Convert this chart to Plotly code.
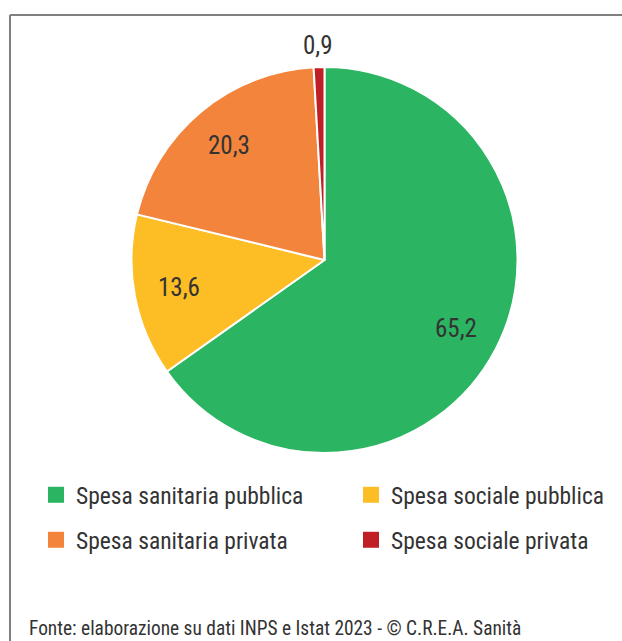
import math
import plotly.graph_objects as go

labels = ["Spesa sanitaria pubblica", "Spesa sociale pubblica",
          "Spesa sanitaria privata", "Spesa sociale privata"]
values = [65.2, 13.6, 20.3, 0.9]
colors = ["#2bb461", "#fdbd25", "#f2843c", "#c11f26"]
source = "Fonte: elaborazione su dati INPS e Istat 2023 - © C.R.E.A. Sanità"

FONT = "Roboto Condensed, Liberation Sans Narrow, Roboto, sans-serif"
W, H = 622, 641
cx, cy, r = 324.5, 260, 193

fig = go.Figure(go.Pie(
    labels=labels,
    values=values,
    marker=dict(colors=colors, line=dict(color="white", width=2)),
    sort=False,
    direction="clockwise",
    rotation=0,
    textinfo="none",
    hoverinfo="label+value",
    showlegend=False,
    domain=dict(x=[(cx - r) / W, (cx + r) / W], y=[1 - (cy + r) / H, 1 - (cy - r) / H]),
))

# legend: one small legend per entry, laid out as a 2x2 grid
leg_names = ["legend", "legend2", "legend3", "legend4"]
for lab, col, ln in zip(labels, colors, leg_names):
    fig.add_trace(go.Scatter(
        x=[None], y=[None], mode="markers", name=lab,
        marker=dict(symbol="square", size=16, color=col),
        legend=ln, hoverinfo="skip",
    ))

# value labels placed along each slice's mid-angle
annotations = []
total = sum(values)
cum = 0
for v in values:
    mid = (cum + v / 2) / total * 2 * math.pi
    cum += v
    f = 1.11 if v < 2 else 0.77
    x = cx + r * f * math.sin(mid)
    y = cy - r * f * math.cos(mid)
    annotations.append(dict(text=f"{v:.1f}".replace(".", ","), x=x / W, y=1 - y / H,
                            xref="paper", yref="paper", xanchor="center", yanchor="middle",
                            showarrow=False,
                            font=dict(family=FONT, size=25, color="#333333")))
annotations.append(dict(text=source, xref="paper", yref="paper", x=27 / W, y=1 - 628 / H,
                        xanchor="left", yanchor="middle", showarrow=False,
                        font=dict(family=FONT, size=19.4, color="#333333")))

leg = dict(
    orientation="h", xanchor="left", yanchor="middle",
    bgcolor="rgba(0,0,0,0)",
    font=dict(family=FONT, size=23.5, color="#333333"),
)
col_x = [36, 351]
row_y = [495, 540]

fig.update_layout(
    width=W, height=H,
    margin=dict(l=0, r=0, t=0, b=0),
    paper_bgcolor="white",
    plot_bgcolor="white",
    font=dict(family=FONT, color="#333333"),
    xaxis=dict(visible=False),
    yaxis=dict(visible=False),
    legend=dict(leg, x=col_x[0] / W, y=1 - row_y[0] / H),
    legend2=dict(leg, x=col_x[1] / W, y=1 - row_y[0] / H),
    legend3=dict(leg, x=col_x[0] / W, y=1 - row_y[1] / H),
    legend4=dict(leg, x=col_x[1] / W, y=1 - row_y[1] / H),
    shapes=[
        dict(type="line", xref="paper", yref="paper", x0=10 / W, x1=1, y0=1 - 15 / H, y1=1 - 15 / H,
             line=dict(color="#808080", width=2)),
        dict(type="line", xref="paper", yref="paper", x0=10 / W, x1=10 / W, y0=0, y1=1 - 15 / H,
             line=dict(color="#808080", width=2)),
    ],
    annotations=annotations,
)

fig.write_html("out.html", config={"displayModeBar": False},
               post_script="document.body.style.margin='0';")
